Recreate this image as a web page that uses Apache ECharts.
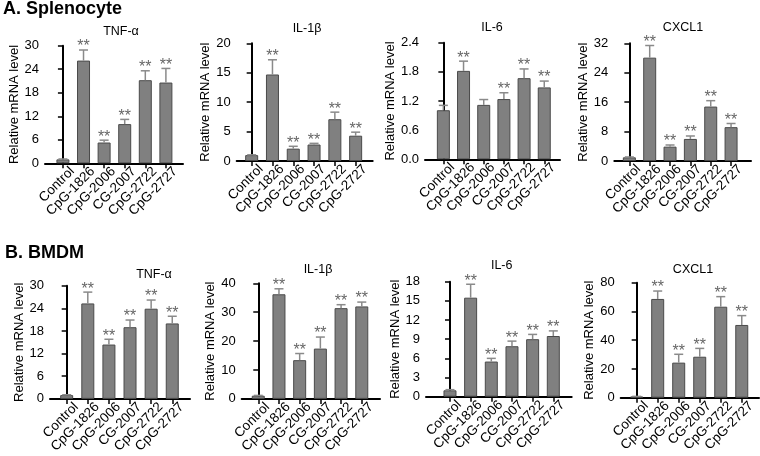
<!DOCTYPE html>
<html><head><meta charset="utf-8">
<script src="https://cdn.jsdelivr.net/npm/echarts@6/dist/echarts.min.js"></script>
<style>html,body{margin:0;padding:0;background:#fff}#c{width:760px;height:456px}</style>
</head><body><div id="c"></div><script>
// ---------- data ----------
const categories = ['Control', 'CpG-1826', 'CpG-2006', 'CG-2007', 'CpG-2722', 'CpG-2727'];
const groupTitles = ['A. Splenocyte', 'B. BMDM'];
const genes = ['TNF-α', 'IL-1β', 'IL-6', 'CXCL1'];
const yAxisName = 'Relative mRNA level';

// A. Splenocyte
const splTnfMean = [1.0, 26.2, 5.3, 10.0, 21.2, 20.6];
const splTnfErr  = [0.1, 2.7, 0.6, 1.2, 2.4, 3.6];
const splTnfSig  = ['', '**', '**', '**', '**', '**'];
const splTnfTicks = [0, 6, 12, 18, 24, 30];

const splIl1Mean = [1.0, 14.7, 2.1, 2.8, 7.1, 4.3];
const splIl1Err  = [0.05, 2.5, 0.4, 0.2, 1.2, 0.6];
const splIl1Sig  = ['', '**', '**', '**', '**', '**'];
const splIl1Ticks = [0, 5, 10, 15, 20];

const splIl6Mean = [1.01, 1.82, 1.12, 1.24, 1.67, 1.48];
const splIl6Err  = [0.10, 0.20, 0.11, 0.13, 0.19, 0.13];
const splIl6Sig  = ['', '**', '', '**', '**', '**'];
const splIl6Ticks = [0.0, 0.6, 1.2, 1.8, 2.4];

const splCxMean = [1.0, 28.1, 3.9, 6.0, 14.8, 9.2];
const splCxErr  = [0.1, 3.3, 0.45, 0.8, 1.6, 1.0];
const splCxSig  = ['', '**', '**', '**', '**', '**'];
const splCxTicks = [0, 8, 16, 24, 32];

// B. BMDM
const bmTnfMean = [1.0, 25.3, 14.4, 19.0, 23.9, 20.0];
const bmTnfErr  = [0.1, 3.0, 1.4, 1.9, 2.3, 1.9];
const bmTnfSig  = ['', '**', '**', '**', '**', '**'];
const bmTnfTicks = [0, 6, 12, 18, 24, 30];

const bmIl1Mean = [1.1, 36.2, 13.4, 17.4, 31.4, 32.0];
const bmIl1Err  = [0.1, 1.9, 2.3, 4.0, 1.2, 1.5];
const bmIl1Sig  = ['', '**', '**', '**', '**', '**'];
const bmIl1Ticks = [0, 10, 20, 30, 40];

const bmIl6Mean = [1.0, 15.5, 5.5, 7.9, 9.0, 9.5];
const bmIl6Err  = [0.1, 2.1, 0.5, 0.8, 0.75, 0.8];
const bmIl6Sig  = ['', '**', '**', '**', '**', '**'];
const bmIl6Ticks = [0, 3, 6, 9, 12, 15, 18];

const bmCxMean = [0.8, 68.7, 24.4, 28.5, 63.3, 50.6];
const bmCxErr  = [0.1, 5.5, 5.8, 5.8, 7.0, 6.5];
const bmCxSig  = ['', '**', '**', '**', '**', '**'];
const bmCxTicks = [0, 20, 40, 60, 80];

// ---------- layout (pixels) ----------
const panels = [
  {title: genes[0], mean: splTnfMean, err: splTnfErr, sig: splTnfSig, ticks: splTnfTicks, dec: 0,
   L: {left: 45, right: 183, top: 45.7, bottom: 163.3, xMin: -0.87, xMax: 5.83, nameGap: 20, tx: 121, ty: 31.5}},
  {title: genes[1], mean: splIl1Mean, err: splIl1Err, sig: splIl1Sig, ticks: splIl1Ticks, dec: 0,
   L: {left: 236.7, right: 372.7, top: 43.3, bottom: 161, xMin: -0.72, xMax: 5.82, nameGap: 20, tx: 307, ty: 28.5}},
  {title: genes[2], mean: splIl6Mean, err: splIl6Err, sig: splIl6Sig, ticks: splIl6Ticks, dec: 1,
   L: {left: 425, right: 560, top: 42.7, bottom: 159.3, xMin: -0.91, xMax: 5.78, nameGap: 20, tx: 492, ty: 28}},
  {title: genes[3], mean: splCxMean, err: splCxErr, sig: splCxSig, ticks: splCxTicks, dec: 0,
   L: {left: 614.3, right: 751, top: 43.3, bottom: 161, xMin: -0.74, xMax: 5.98, nameGap: 20, tx: 683, ty: 28}},
  {title: genes[0], mean: bmTnfMean, err: bmTnfErr, sig: bmTnfSig, ticks: bmTnfTicks, dec: 0,
   L: {left: 50, right: 190, top: 285.7, bottom: 402.7, xMin: -0.79, xMax: 5.84, nameGap: 23, tx: 154, ty: 275}},
  {title: genes[1], mean: bmIl1Mean, err: bmIl1Err, sig: bmIl1Sig, ticks: bmIl1Ticks, dec: 0,
   L: {left: 241.7, right: 380, top: 283.3, bottom: 400, xMin: -0.80, xMax: 5.88, nameGap: 25, tx: 318, ty: 269.5}},
  {title: genes[2], mean: bmIl6Mean, err: bmIl6Err, sig: bmIl6Sig, ticks: bmIl6Ticks, dec: 0,
   L: {left: 426, right: 571.7, top: 281.7, bottom: 396.7, xMin: -1.16, xMax: 5.89, nameGap: 19, tx: 501.7, ty: 266}},
  {title: genes[3], mean: bmCxMean, err: bmCxErr, sig: bmCxSig, ticks: bmCxTicks, dec: 0,
   L: {left: 620.7, right: 759, top: 282.7, bottom: 397.7, xMin: -0.76, xMax: 5.82, nameGap: 24, tx: 693, ty: 269.7}}
];

const FONT = '"Liberation Sans", Arial, Helvetica, sans-serif';
const labelShift = 0.45;
const catIdx = categories.map((c, i) => i);

const grids = [], xAxes = [], yAxes = [], series = [], graphics = [];

panels.forEach((p, k) => {
  const L = p.L;
  grids.push({left: L.left, top: L.top, width: L.right - L.left, height: L.bottom - L.top});
  xAxes.push({
    gridIndex: k, type: 'value', min: L.xMin, max: L.xMax,
    splitLine: {show: false},
    axisLine: {show: true, onZero: false, lineStyle: {color: '#000', width: 2}},
    axisTick: {show: true, customValues: catIdx, length: 5, lineStyle: {color: '#000', width: 1.5}},
    axisLabel: {
      customValues: catIdx.map(i => i + labelShift), rotate: 45, margin: 6,
      fontSize: 13.5, color: '#000', fontFamily: FONT,
      formatter: v => categories[Math.round(v - labelShift)]
    }
  });
  const t = p.ticks;
  yAxes.push({
    gridIndex: k, type: 'value', min: t[0], max: t[t.length - 1], interval: t[1] - t[0],
    splitLine: {show: false},
    axisLine: {show: true, lineStyle: {color: '#000', width: 2}},
    axisTick: {show: true, length: 5, lineStyle: {color: '#000', width: 1.5}},
    axisLabel: {margin: 6, fontSize: 13, color: '#000', fontFamily: FONT,
      formatter: v => v.toFixed(p.dec)},
    name: yAxisName, nameLocation: 'middle', nameGap: L.nameGap,
    nameTextStyle: {fontSize: 13, color: '#000', fontFamily: FONT}
  });
  series.push({
    type: 'bar', xAxisIndex: k, yAxisIndex: k, barWidth: 13,
    data: p.mean.map((v, i) => [i, v]),
    itemStyle: {color: '#808080', borderColor: '#4a4a4a', borderWidth: 1},
    silent: true
  });
  series.push({
    type: 'custom', xAxisIndex: k, yAxisIndex: k, z: 3, silent: true,
    data: p.mean.map((v, i) => [i, v, p.err[i]]),
    renderItem: (params, api) => {
      const x = api.value(0), m = api.value(1), e = api.value(2);
      const base = api.coord([x, m]);
      const top = api.coord([x, m + e]);
      const st = {stroke: '#8a8a8a', lineWidth: 1.5};
      const children = [
        {type: 'line', shape: {x1: base[0], y1: base[1], x2: top[0], y2: top[1]}, style: st},
        {type: 'line', shape: {x1: top[0] - 4.5, y1: top[1], x2: top[0] + 4.5, y2: top[1]}, style: st}
      ];
      const s = p.sig[params.dataIndex];
      if (s) children.push({type: 'text', x: top[0], y: top[1] + 5,
        style: {text: s, fill: '#666', font: '16px ' + FONT, align: 'center', verticalAlign: 'bottom'}});
      return {type: 'group', children};
    }
  });
  graphics.push({type: 'text', x: L.tx, y: L.ty,
    style: {text: p.title, fill: '#000', font: '12.5px ' + FONT, align: 'center', verticalAlign: 'middle'}});
});

graphics.push({type: 'text', x: 3, y: 9.5,
  style: {text: groupTitles[0], fill: '#000', font: 'bold 18px ' + FONT, align: 'left', verticalAlign: 'middle'}});
graphics.push({type: 'text', x: 5, y: 253,
  style: {text: groupTitles[1], fill: '#000', font: 'bold 18px ' + FONT, align: 'left', verticalAlign: 'middle'}});

const chart = echarts.init(document.getElementById('c'), null, {renderer: 'canvas'});
chart.setOption({
  animation: false,
  backgroundColor: '#fff',
  grid: grids, xAxis: xAxes, yAxis: yAxes, series: series, graphic: graphics
});
</script></body></html>
